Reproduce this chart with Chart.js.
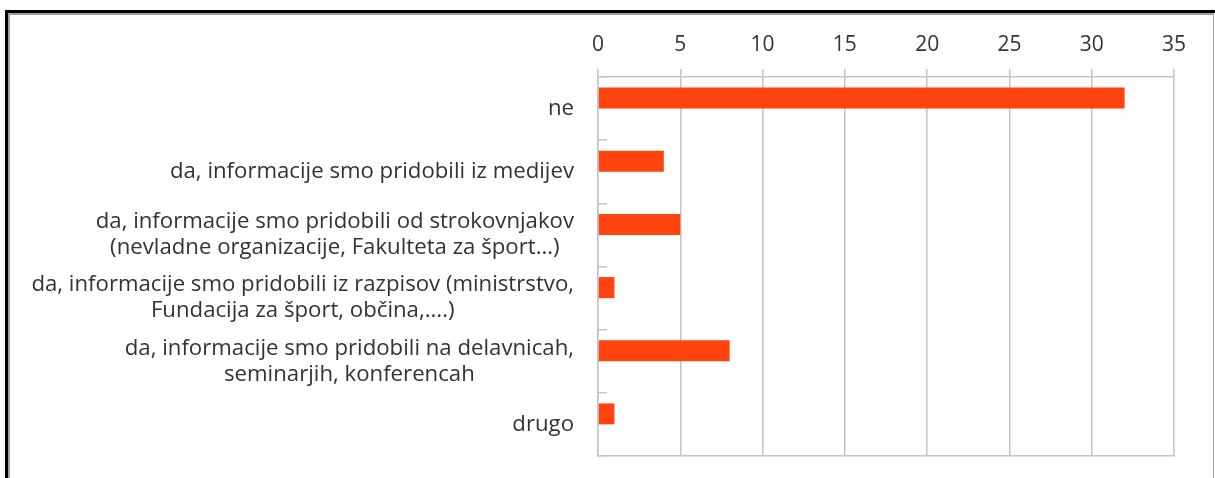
<!DOCTYPE html>
<html>
<head>
<meta charset="utf-8">
<script src="https://cdn.jsdelivr.net/npm/chart.js@4/dist/chart.umd.min.js"></script>
<style>
  html, body { margin: 0; padding: 0; background: #fff; }
  #wrap { position: relative; width: 1215px; height: 478px; overflow: hidden; }
  #frame { position: absolute; left: 5px; top: 10px; width: 1300px; height: 600px;
           border-top: 3px solid #000; border-left: 3px solid #000; box-sizing: border-box; }
  #inner { position: absolute; left: 8px; top: 13px; width: 1206px; height: 600px;
           border-top: 2px solid #a0a0a0; border-left: 2px solid #a0a0a0; border-right: 1px solid #a0a0a0; box-sizing: border-box; }
  canvas { position: absolute; left: 0; top: 0; }
</style>
</head>
<body>
<div id="wrap">
  <div id="frame"></div>
  <div id="inner"></div>
  <canvas id="c" width="1215" height="478"></canvas>
</div>
<script>
const categories = [
  ["ne"],
  ["da, informacije smo pridobili iz medijev"],
  ["da, informacije smo pridobili od strokovnjakov", "(nevladne organizacije, Fakulteta za šport...)"],
  ["da, informacije smo pridobili iz razpisov (ministrstvo,", "Fundacija za šport, občina,....)"],
  ["da, informacije smo pridobili na delavnicah,", "seminarjih, konferencah"],
  ["drugo"]
];
const seriesValues = [32, 4, 5, 1, 8, 1];
const emptySeries = [null, null, null, null, null, null];
const xTicks = [0, 5, 10, 15, 20, 25, 30, 35];

const FONT = "'Open Sans', 'Noto Sans', sans-serif";
const TEXT = "#333333";
const GRID = "#c4c4c4";

const labelPlugin = {
  id: 'catLabels',
  afterDraw(chart) {
    const ctx = chart.ctx;
    const y = chart.scales.y;
    const rightEdge = y.right - 24;
    const lh = 26;
    ctx.save();
    ctx.font = "22.2px " + FONT;
    ctx.fillStyle = TEXT;
    ctx.textAlign = "center";
    ctx.textBaseline = "middle";
    categories.forEach((lines, i) => {
      const cy = y.getPixelForTick(i);
      const w = Math.max(...lines.map(l => ctx.measureText(l).width));
      const cx = rightEdge - w / 2;
      const y0 = cy - (lines.length - 1) * lh / 2;
      lines.forEach((l, k) => ctx.fillText(l, cx, y0 + k * lh));
    });
    ctx.restore();
  }
};

new Chart(document.getElementById('c'), {
  type: 'bar',
  data: {
    labels: categories,
    datasets: [
      { label: 'Odgovori', data: seriesValues, backgroundColor: '#ff4410', borderWidth: 0 },
      { label: '', data: emptySeries, backgroundColor: '#ff4410', borderWidth: 0 }
    ]
  },
  options: {
    indexAxis: 'y',
    responsive: false,
    animation: false,
    layout: { padding: { top: 0, right: 41, bottom: 22, left: 0 } },
    plugins: { legend: { display: false }, tooltip: { enabled: false } },
    datasets: { bar: { categoryPercentage: 0.665, barPercentage: 1.0 } },
    scales: {
      x: {
        position: 'top',
        min: 0, max: 35,
        afterBuildTicks(scale) { scale.ticks = xTicks.map(v => ({ value: v })); },
        afterFit(scale) { scale.height = 77; },
        ticks: { color: TEXT, font: { family: FONT, size: 21 }, padding: 11 },
        grid: { color: GRID, lineWidth: 1.5, tickLength: 8 },
        border: { color: GRID, width: 1.5 }
      },
      xb: {
        axis: 'x',
        position: 'bottom',
        min: 0, max: 35,
        afterFit(scale) { scale.height = 0; },
        ticks: { display: false },
        grid: { display: false, drawTicks: false },
        border: { color: GRID, width: 1.5 }
      },
      y: {
        afterFit(scale) { scale.width = 598; },
        ticks: { display: false },
        grid: { offset: true, drawOnChartArea: false, tickLength: -9, color: GRID, lineWidth: 1.5 },
        border: { color: GRID, width: 1.5 }
      }
    }
  },
  plugins: [labelPlugin]
});
</script>
</body>
</html>
